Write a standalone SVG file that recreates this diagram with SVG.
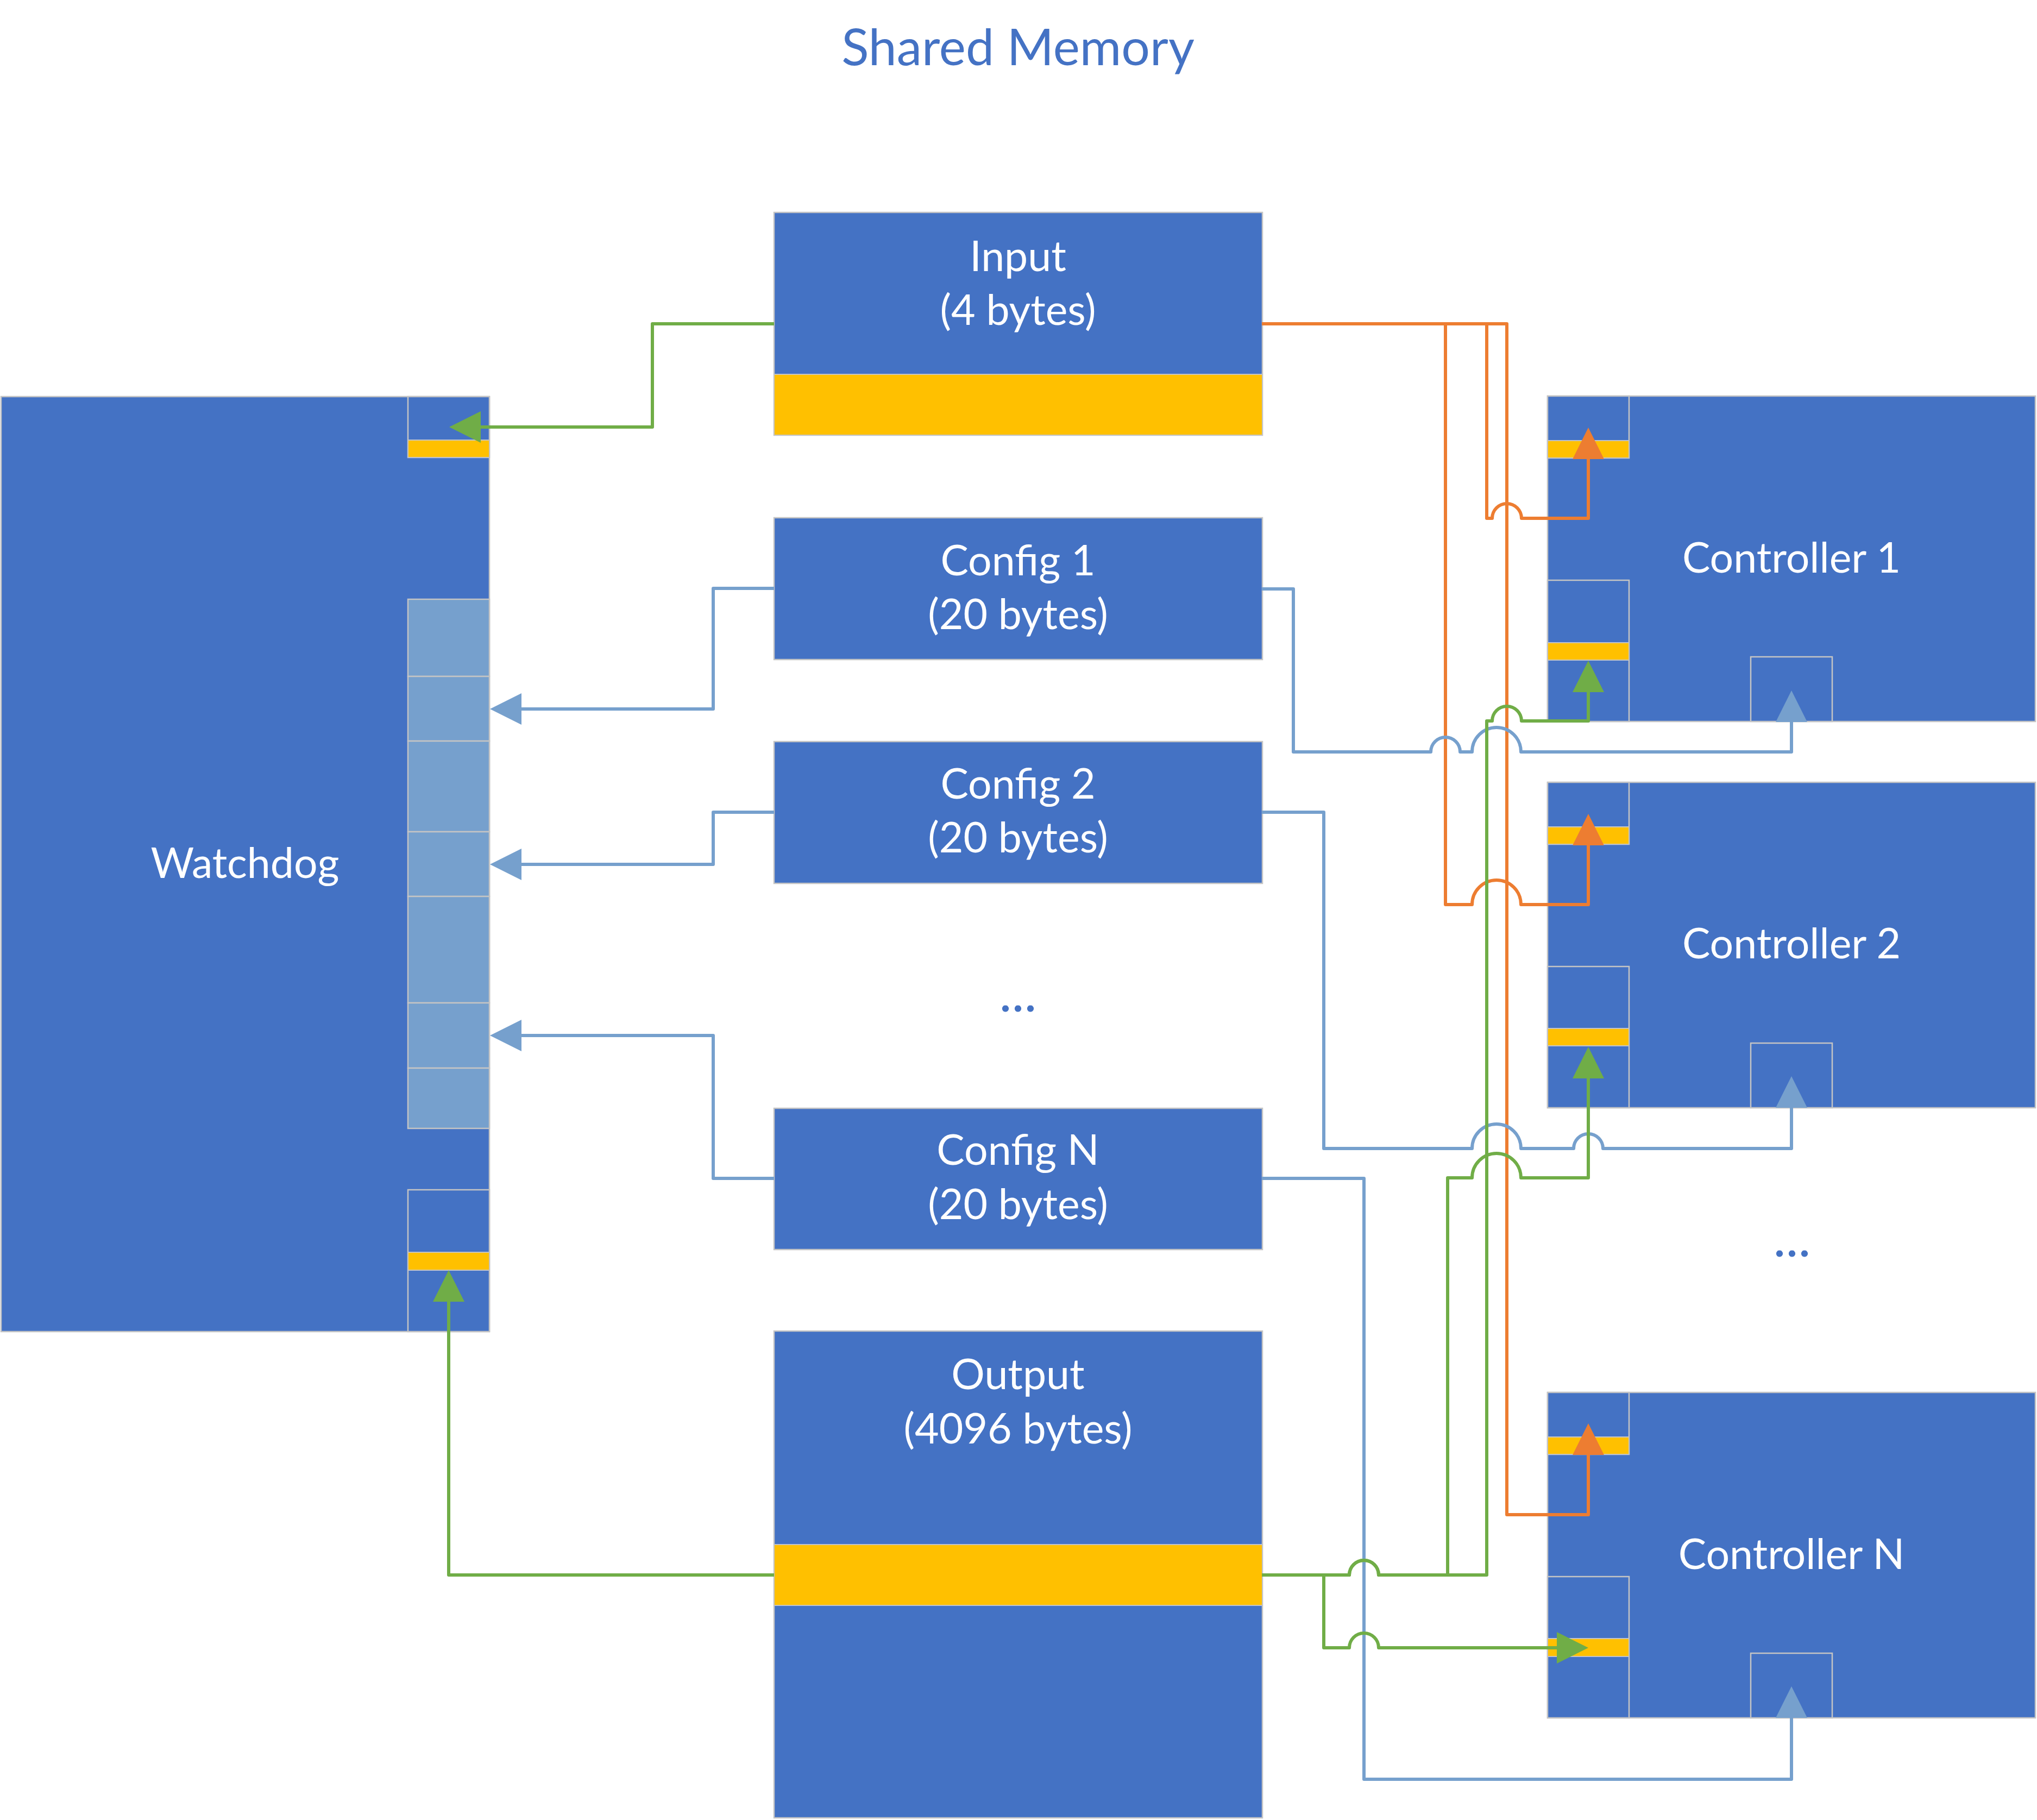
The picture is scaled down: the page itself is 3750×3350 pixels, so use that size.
<svg xmlns="http://www.w3.org/2000/svg" width="3750" height="3350" viewBox="0 0 3750 3350">
<style>
.bx{fill:#4472C4;stroke:#C4C4C4;stroke-width:2.5}
.yl{fill:#FFC000;stroke:#C4C4C4;stroke-width:2}
.cell{fill:#76A0CD;stroke:#C4C4C4;stroke-width:2.5}
.sub{fill:#4472C4;stroke:#C4C4C4;stroke-width:2.5}
.t{font-family:Lato,"Liberation Sans",sans-serif;font-size:77px;fill:#FFFFFF;text-anchor:middle}
.ti{font-family:Lato,"Liberation Sans",sans-serif;font-size:93px;fill:#4472C4;text-anchor:middle}
.dt{font-family:Lato,"Liberation Sans",sans-serif;font-size:80px;font-weight:bold;letter-spacing:4px;fill:#4472C4;text-anchor:middle}
.c{fill:none;stroke-width:6;stroke-linejoin:round}
.g{stroke:#70AD47}
.o{stroke:#ED7D31}
.b{stroke:#76A0CD}
</style>
<defs>
<marker id="ag" markerUnits="userSpaceOnUse" viewBox="0 0 58 58" markerWidth="58" markerHeight="58" refX="0" refY="29" orient="auto"><path d="M0,0 L58,29 L0,58 z" fill="#70AD47"/></marker>
<marker id="ao" markerUnits="userSpaceOnUse" viewBox="0 0 58 58" markerWidth="58" markerHeight="58" refX="0" refY="29" orient="auto"><path d="M0,0 L58,29 L0,58 z" fill="#ED7D31"/></marker>
<marker id="ab" markerUnits="userSpaceOnUse" viewBox="0 0 58 58" markerWidth="58" markerHeight="58" refX="0" refY="29" orient="auto"><path d="M0,0 L58,29 L0,58 z" fill="#76A0CD"/></marker>
</defs>

<text id="title" class="ti" x="1874" y="120">Shared Memory</text>

<g id="watchdog">
<rect class="bx" x="2" y="730" width="899" height="1721"/>
<rect class="sub" x="751" y="730" width="150" height="112"/>
<rect class="yl" x="751" y="810" width="150" height="32"/>
<rect class="cell" x="751" y="1103" width="150" height="142"/>
<rect class="cell" x="751" y="1245" width="150" height="119"/>
<rect class="cell" x="751" y="1364" width="150" height="167"/>
<rect class="cell" x="751" y="1531" width="150" height="119"/>
<rect class="cell" x="751" y="1650" width="150" height="196"/>
<rect class="cell" x="751" y="1846" width="150" height="120"/>
<rect class="cell" x="751" y="1966" width="150" height="111"/>
<rect class="sub" x="751" y="2190" width="150" height="261"/>
<rect class="yl" x="751" y="2305" width="150" height="33"/>
<text class="t" x="451" y="1616">Watchdog</text>
</g>

<g id="input">
<rect class="bx" x="1425" y="391" width="899" height="410"/>
<rect class="yl" x="1425" y="689" width="899" height="112"/>
<text class="t" x="1874" y="499">Input</text>
<text class="t" x="1874" y="598">(4 bytes)</text>
</g>

<g id="config1">
<rect class="bx" x="1425" y="953" width="899" height="261"/>
<text class="t" x="1874" y="1059">Config 1</text>
<text class="t" x="1874" y="1158">(20 bytes)</text>
</g>

<g id="config2">
<rect class="bx" x="1425" y="1365" width="899" height="261"/>
<text class="t" x="1874" y="1470">Config 2</text>
<text class="t" x="1874" y="1569">(20 bytes)</text>
</g>

<text id="dots-configs" class="dt" x="1876" y="1862">...</text>

<g id="configN">
<rect class="bx" x="1425" y="2040" width="899" height="260"/>
<text class="t" x="1874" y="2144">Config N</text>
<text class="t" x="1874" y="2244">(20 bytes)</text>
</g>

<g id="output">
<rect class="bx" x="1425" y="2450" width="899" height="896"/>
<rect class="yl" x="1425" y="2843" width="899" height="112"/>
<text class="t" x="1874" y="2557">Output</text>
<text class="t" x="1874" y="2657">(4096 bytes)</text>
</g>

<g id="controller1">
<rect class="bx" x="2849" y="729" width="898" height="599"/>
<rect class="sub" x="2849" y="729" width="150" height="114"/>
<rect class="yl" x="2849" y="811" width="150" height="32"/>
<rect class="sub" x="2849" y="1068" width="150" height="260"/>
<rect class="yl" x="2849" y="1183" width="150" height="32"/>
<rect class="sub" x="3223" y="1209" width="150" height="119"/>
<text class="t" x="3298" y="1054">Controller 1</text>
</g>

<g id="controller2">
<rect class="bx" x="2849" y="1440" width="898" height="599"/>
<rect class="sub" x="2849" y="1440" width="150" height="114"/>
<rect class="yl" x="2849" y="1522" width="150" height="32"/>
<rect class="sub" x="2849" y="1779" width="150" height="260"/>
<rect class="yl" x="2849" y="1893" width="150" height="32"/>
<rect class="sub" x="3223" y="1920" width="150" height="119"/>
<text class="t" x="3298" y="1764">Controller 2</text>
</g>

<text id="dots-controllers" class="dt" x="3301" y="2313">...</text>

<g id="controllerN">
<rect class="bx" x="2849" y="2563" width="898" height="599"/>
<rect class="sub" x="2849" y="2563" width="150" height="114"/>
<rect class="yl" x="2849" y="2645" width="150" height="32"/>
<rect class="sub" x="2849" y="2902" width="150" height="260"/>
<rect class="yl" x="2849" y="3016" width="150" height="33"/>
<rect class="sub" x="3223" y="3043" width="150" height="119"/>
<text class="t" x="3298" y="2888">Controller N</text>
</g>

<g id="connectors">
<path class="c g" d="M1425,596 H1201 V786 H885" marker-end="url(#ag)"/>
<path class="c o" d="M2323,596 H2737 V954 H2747 A27,27 0 0 1 2801,954 H2924 V845" marker-end="url(#ao)"/>
<path class="c o" d="M2323,596 H2661 V1665 H2710 A45,45 0 0 1 2800,1665 H2924 V1556" marker-end="url(#ao)"/>
<path class="c o" d="M2323,596 H2774 V2788 H2924 V2678" marker-end="url(#ao)"/>
<path class="c b" d="M1425,1083 H1313 V1305 H960" marker-end="url(#ab)"/>
<path class="c b" d="M1425,1495 H1313 V1591 H960" marker-end="url(#ab)"/>
<path class="c b" d="M1425,2169 H1313 V1906 H960" marker-end="url(#ab)"/>
<path class="c b" d="M2323,1084 H2381 V1384 H2634 A27,27 0 0 1 2688,1384 H2710 A45,45 0 0 1 2800,1384 H3298 V1329" marker-end="url(#ab)"/>
<path class="c b" d="M2323,1495 H2437 V2114 H2710 A45,45 0 0 1 2800,2114 H2897 A27,27 0 0 1 2951,2114 H3298 V2039" marker-end="url(#ab)"/>
<path class="c b" d="M2323,2169 H2511 V3275 H3298 V3162" marker-end="url(#ab)"/>
<path class="c g" d="M1425,2899 H826 V2396" marker-end="url(#ag)"/>
<path class="c g" d="M2323,2899 H2484 A27,27 0 0 1 2538,2899 H2737 V1327 H2747 A27,27 0 0 1 2801,1327 H2924 V1274" marker-end="url(#ag)"/>
<path class="c g" d="M2323,2899 H2484 A27,27 0 0 1 2538,2899 H2665 V2168 H2710 A45,45 0 0 1 2800,2168 H2924 V1985" marker-end="url(#ag)"/>
<path class="c g" d="M2323,2899 H2437 V3033 H2484 A27,27 0 0 1 2538,3033 H2866" marker-end="url(#ag)"/>
</g>
</svg>
